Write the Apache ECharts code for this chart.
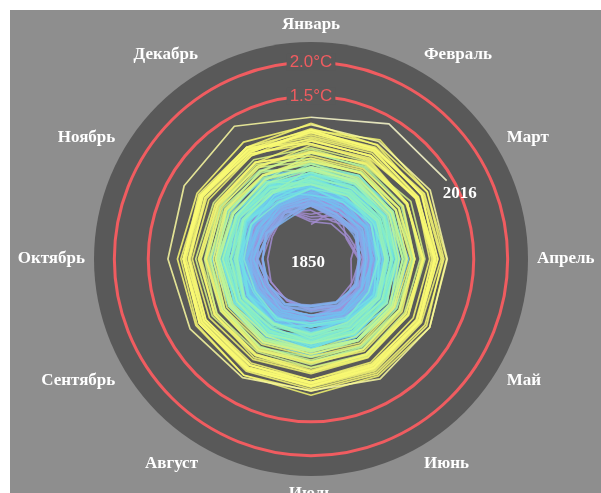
<!DOCTYPE html>
<html>
<head>
<meta charset="utf-8">
<script src="https://cdn.jsdelivr.net/npm/echarts@6/dist/echarts.min.js"></script>
<style>
html,body{margin:0;padding:0;background:#ffffff;}
#chart{position:absolute;left:10px;top:10px;width:591px;height:483px;background:#8e8e8e;}
</style>
</head>
<body>
<div id="chart"></div>
<script>
// Month names (angle axis tick labels)
const months = ['Январь','Февраль','Март','Апрель','Май','Июнь','Июль','Август','Сентябрь','Октябрь','Ноябрь','Декабрь'];
const firstYear = 1850;
// Ring reference levels (°C)
const ringLevels = [1.5, 2.0];
const ringLabels = ['1.5°C', '2.0°C'];
// Monthly temperature anomalies, hundredths of °C, one row per year (Jan..Dec)
const d1850 = [
[-39,2,-8,-31,-21,8,7,12,-12,-1,-15,-7],
[-2,-12,1,13,5,18,22,14,9,18,3,16],
[5,14,-6,-2,12,10,19,8,1,5,15,12],
[12,-8,0,9,-4,2,10,13,4,-2,6,8],
[-3,6,10,-5,0,8,1,5,-8,4,9,-3],
[15,-12,3,-6,4,7,-1,9,2,-10,0,3],
[-10,4,-14,-3,6,2,10,-2,-9,3,8,-7],
[-24,-5,-30,-20,-12,-8,-14,-19,-22,-10,-18,-11],
[-18,-26,-4,-10,2,-6,-3,-9,-12,1,-8,-3],
[6,-4,10,4,-2,8,2,1,-5,9,3,4]];
const d1860 = [
[-4,-20,-12,-6,-10,0,-2,-8,-14,-3,-12,-5],
[-28,-16,-8,-14,-6,-10,-2,-9,-13,-18,-15,-5],
[-35,-30,-28,-18,-20,-16,-14,-19,-22,-26,-24,-12],
[4,-8,2,-12,-5,0,6,-3,-7,1,-9,-5],
[-32,-22,-25,-14,-12,-10,-16,-20,-15,-18,-21,-11],
[6,-6,-10,2,0,-4,3,-1,-8,5,-3,-5],
[10,-4,5,1,-3,6,2,4,-6,3,0,8],
[-8,3,-5,6,2,-2,4,-3,1,-6,-1,0],
[-12,-2,8,6,10,9,7,3,5,2,4,6],
[12,8,-4,1,0,3,-2,5,2,-1,-3,4]];
const d1870 = [
[4,-6,2,0,6,3,-1,5,-3,-4,1,8],
[-12,-8,6,-2,-4,3,1,0,-5,2,-3,4],
[-3,6,2,8,4,7,1,5,3,6,0,9],
[5,-2,3,0,6,-4,2,1,-1,4,-3,0],
[2,-9,-6,-3,-8,-5,-2,-7,-4,-6,-10,-1],
[-12,-14,-9,-5,-3,-6,-2,-8,-4,-10,-6,-5],
[-8,-3,-10,-6,-9,-4,-2,-7,-5,-3,-8,-6],
[8,12,14,16,20,26,28,30,32,35,30,34],
[42,45,40,38,36,32,28,30,25,30,27,26],
[12,15,10,6,5,8,3,7,4,6,10,9]];
const d1880 = [
[18,10,6,8,14,12,9,11,7,13,10,15],
[20,14,22,16,24,19,15,12,17,21,18,20],
[22,14,8,6,12,4,9,10,7,11,8,9],
[2,5,10,8,12,6,9,11,7,8,5,13],
[4,-2,-8,-6,-9,-4,-7,-3,-5,-10,-6,-4],
[-8,-2,3,-6,-1,-4,2,-5,-3,-7,-2,-1],
[-6,4,2,5,-1,3,0,6,-2,1,-3,3],
[-10,-8,-4,-2,-6,-3,-7,-5,-1,-8,-4,-2],
[2,8,4,10,6,9,3,7,5,8,4,6],
[12,22,20,24,18,15,16,19,14,21,17,18]];
const d1890 = [
[2,-8,-4,-6,-3,-10,-5,-7,-2,-9,-4,-6],
[-6,4,2,-2,5,3,0,6,-1,3,-3,2],
[4,-6,-8,-2,-4,0,-5,-1,-3,-7,-2,1],
[-12,-8,-2,-5,-3,1,-4,-6,0,-2,-7,-3],
[-6,3,-3,2,-1,4,-2,0,-4,1,-5,2],
[-2,6,4,1,8,3,5,0,2,6,1,4],
[12,15,10,18,20,16,22,19,14,21,17,20],
[16,22,20,18,24,17,21,15,19,23,18,16],
[8,-2,4,6,1,3,-1,5,2,0,4,6],
[6,10,12,8,15,11,16,18,13,20,17,19]];
const d1900 = [
[18,26,24,14,25,19,27,17,21,28,12,20],
[24,12,18,10,15,20,9,17,11,16,19,8],
[14,8,2,6,-4,0,5,-3,1,4,-6,2],
[-2,6,-9,-12,-4,-10,-2,-8,-13,-6,-10,-4],
[-10,-18,-12,-20,-16,-9,-17,-21,-12,-19,-14,-16],
[-8,-4,4,-3,6,2,8,-2,5,0,9,3],
[4,12,8,14,6,11,7,13,5,10,12,6],
[-4,-14,-8,-12,-6,-11,-15,-7,-10,-3,-13,-9],
[-9,-16,-11,-18,-14,-10,-20,-13,-17,-12,-15,-11],
[-12,-20,-15,-18,-10,-17,-22,-14,-16,-19,-13,-18]];
const d1910 = [
[-8,-14,-18,-10,-15,-12,-17,-9,-16,-11,-19,-13],
[-11,-18,-14,-20,-12,-15,-21,-13,-17,-10,-16,-19],
[-2,-9,-5,-11,-4,-7,-12,-10,-6,-3,-8,-4],
[-8,-1,-6,-9,-3,2,-7,-4,-1,-10,-5,0],
[4,10,15,9,16,11,18,12,14,17,10,19],
[12,22,16,24,14,20,17,21,15,19,23,13],
[6,-2,2,-7,-3,-8,-1,-9,-5,0,-10,-6],
[-6,-14,-11,-18,-13,-16,-20,-12,-17,-19,-14,-22],
[-10,-2,-6,3,-4,2,-1,5,-5,4,-3,-7],
[0,8,3,-2,6,1,9,4,-1,7,2,5]];
const d1920 = [
[9,1,6,0,4,8,-1,7,2,5,0,6],
[18,8,13,17,9,15,7,12,16,10,14,6],
[6,-2,5,1,-3,4,0,3,7,-1,2,-2],
[-1,7,2,6,9,0,5,3,1,8,2,7],
[8,1,5,-1,7,3,0,6,2,4,9,1],
[3,10,12,6,9,14,5,11,8,15,7,13],
[26,28,22,16,18,21,14,19,23,15,20,24],
[13,6,4,10,12,5,11,8,14,6,9,4],
[16,14,8,6,12,13,7,9,11,15,8,14],
[1,-8,-2,-9,-4,0,-7,-3,-10,-5,-8,1]];
const d1930 = [
[9,14,12,16,17,11,19,14,18,13,20,21],
[17,24,18,22,26,19,23,17,22,19,25,20],
[20,12,17,10,15,13,18,14,11,19,12,17],
[6,-3,5,-1,2,4,-2,0,3,6,-1,4],
[13,20,15,21,23,17,14,20,19,15,22,18],
[16,8,14,6,11,13,9,12,7,14,8,15],
[13,11,17,19,14,20,15,18,13,16,21,17],
[21,25,27,29,31,26,32,28,30,33,27,31],
[35,28,34,31,26,33,29,30,36,28,34,27],
[24,30,27,32,25,29,33,26,31,28,34,30]];
const d1940 = [
[36,42,45,41,47,43,48,41,46,49,42,47],
[45,52,47,54,50,49,46,53,49,55,47,52],
[43,39,35,38,33,40,37,35,41,38,34,40],
[35,38,43,40,44,37,41,43,38,45,39,42],
[46,50,54,51,55,48,53,51,49,56,52,47],
[44,42,37,41,35,43,39,38,45,40,35,42],
[28,26,21,25,19,27,24,22,28,23,20,26],
[25,30,28,24,29,32,26,31,27,25,30,32],
[24,21,17,20,15,23,20,18,24,19,16,22],
[17,22,20,16,24,18,22,19,16,23,18,25]];
const d1950 = [
[4,10,18,12,20,13,19,9,16,11,21,8],
[14,20,26,28,21,29,24,31,22,27,25,32],
[27,36,26,34,39,29,37,28,33,36,25,34],
[33,42,45,36,46,35,43,38,34,44,36,41],
[25,12,20,11,22,16,10,23,18,14,22,13],
[24,13,19,10,21,15,9,22,16,12,20,11],
[15,6,13,7,17,10,4,14,8,16,11,18],
[27,33,38,31,40,35,42,34,41,36,43,37],
[46,42,33,37,35,40,31,38,30,39,35,34],
[38,31,36,28,38,33,30,37,32,39,34,29]];
const d1960 = [
[30,22,25,31,24,33,27,35,26,30,23,32],
[34,42,36,40,33,39,35,41,37,32,38,36],
[38,33,36,30,37,34,39,32,35,37,31,38],
[32,38,31,35,33,37,34,40,39,42,36,33],
[22,18,12,10,8,13,7,11,5,9,12,6],
[14,18,16,22,20,24,19,21,23,18,22,26],
[20,27,28,24,26,29,22,25,24,28,23,27],
[27,24,31,29,33,26,30,28,32,29,27,31],
[21,19,25,23,27,20,24,22,26,21,25,23],
[30,33,35,38,36,37,34,39,36,40,38,37]];
const d1970 = [
[37,40,33,36,31,35,32,34,30,33,35,31],
[26,21,24,20,25,22,23,19,24,21,26,22],
[24,26,28,30,31,33,34,32,36,35,37,39],
[50,52,49,51,47,48,45,46,44,45,43,42],
[20,23,25,22,26,24,27,21,25,23,26,22],
[32,30,34,28,31,29,33,27,30,28,32,26],
[20,17,22,19,23,18,21,20,24,19,25,23],
[44,47,50,48,52,49,51,47,50,48,53,49],
[41,38,40,36,39,37,35,38,36,40,37,39],
[42,44,46,45,48,47,46,49,48,51,50,52]];
const d1980 = [
[52,58,54,60,56,59,55,61,57,58,54,60],
[68,66,64,62,60,63,61,65,60,62,64,61],
[40,44,42,46,43,47,44,45,46,48,45,44],
[66,68,67,63,61,60,62,59,61,58,60,57],
[50,46,48,45,49,47,44,48,46,47,43,45],
[44,41,43,40,45,42,44,41,43,45,42,46],
[46,49,47,50,48,49,47,51,48,50,49,52],
[56,58,60,61,63,64,66,65,64,66,65,68],
[72,70,74,71,69,72,70,68,71,67,69,66],
[54,57,59,58,60,57,59,61,58,60,57,59]];
const d1990 = [
[68,72,80,78,76,75,77,74,78,80,76,79],
[74,76,73,75,72,74,71,73,70,72,69,71],
[58,56,54,52,51,53,50,52,53,51,54,52],
[54,56,55,57,53,56,54,55,57,54,56,53],
[59,61,60,63,61,64,62,63,61,64,62,65],
[78,80,74,76,75,77,76,78,74,76,73,75],
[62,64,66,63,65,67,64,66,63,65,67,68],
[69,72,74,75,76,78,79,81,83,85,84,86],
[100,113,108,110,112,109,111,108,104,102,98,100],
[80,78,74,73,75,72,76,74,73,75,72,74]];
const d2000 = [
[66,74,72,76,71,73,74,72,75,73,70,74],
[84,86,90,88,91,89,92,90,93,91,94,92],
[98,100,99,94,95,94,93,94,92,94,95,92],
[97,94,93,92,94,92,93,96,95,97,94,98],
[93,95,92,94,90,89,88,91,92,95,97,91],
[100,96,101,102,98,100,99,98,100,97,99,96],
[90,93,92,94,93,95,96,97,96,98,97,100],
[110,104,98,97,94,92,93,91,92,90,91,89],
[80,82,90,85,84,86,88,87,89,88,90,86],
[88,90,89,92,94,96,98,97,99,98,97,96]];
const d2010 = [
[102,105,108,106,104,103,102,101,100,99,98,96],
[86,85,88,90,89,91,92,90,89,90,88,89],
[84,86,89,92,95,96,94,95,97,98,96,94],
[96,98,99,97,96,98,97,99,100,98,101,100],
[100,98,103,104,107,106,105,108,106,107,104,109],
[108,110,113,111,112,114,104,112,116,121,126,136],
[119,140,141]];

const rows = [].concat(d1850,d1860,d1870,d1880,d1890,d1900,d1910,d1920,d1930,d1940,d1950,d1960,d1970,d1980,d1990,d2000,d2010);
const lastYear = firstYear + rows.length - 1;

// colour ramp by year (style)
const stops = [
  [1850,[165,138,205]],[1895,[152,150,222]],[1915,[128,175,236]],[1940,[105,200,240]],
  [1958,[115,228,226]],[1973,[140,240,192]],[1985,[192,245,150]],[1995,[242,245,112]],
  [2014,[250,250,115]],[2016,[250,250,205]]
];
function colorFor(y){
  for(let i=0;i<stops.length-1;i++){
    const a=stops[i], b=stops[i+1];
    if(y>=a[0] && y<=b[0]){
      const t=(y-a[0])/(b[0]-a[0]);
      const c=a[1].map((v,k)=>Math.round(v+(b[1][k]-v)*t));
      return 'rgb('+c.join(',')+')';
    }
  }
  return 'rgb(250,250,205)';
}

const RMIN=-0.9, RMAX=2.3;
const series = rows.map((row,i)=>{
  const year = firstYear+i;
  const next = rows[i+1];
  const pts = row.map((v,m)=>[v/100,m]);
  if(next) pts.push([next[0]/100,12]);
  return {
    type:'line', coordinateSystem:'polar', data:pts, symbol:'none', silent:true,
    lineStyle:{color:colorFor(year), width:1.7, opacity:0.85},
    z: 2
  };
});

const chart = echarts.init(document.getElementById('chart'));
chart.setOption({
  animation:false,
  backgroundColor:'#8e8e8e',
  polar:{center:[301,249], radius:217},
  angleAxis:{
    type:'value', min:0, max:12, interval:1, startAngle:90, clockwise:true,
    axisLine:{show:false}, axisTick:{show:false}, splitLine:{show:false},
    axisLabel:{
      margin:9, color:'#ffffff', fontFamily:'Liberation Serif', fontWeight:'bold', fontSize:17,
      formatter:(v)=> (v>=0 && v<12) ? months[Math.round(v)] : ''
    }
  },
  radiusAxis:{
    type:'value', min:RMIN, max:RMAX,
    axisLine:{show:false}, axisTick:{show:false}, axisLabel:{show:false}, splitLine:{show:false}
  },
  series: series
});

// Background disc, reference rings and labels positioned through the polar scales
const c = chart.convertToPixel({seriesIndex:0},[RMIN,0]);
const edge = chart.convertToPixel({seriesIndex:0},[RMAX,0]);
const R = c[1]-edge[1];
const graphics = [{type:'circle', z:-10, silent:true, shape:{cx:c[0],cy:c[1],r:R}, style:{fill:'#595959'}}];
ringLevels.forEach((lv,i)=>{
  const p = chart.convertToPixel({seriesIndex:0},[lv,0]);
  const r = c[1]-p[1];
  graphics.push({type:'circle', z:-5, silent:true, shape:{cx:c[0],cy:c[1],r:r}, style:{fill:'none',stroke:'#f05c60',lineWidth:3}});
  graphics.push({type:'text', z:-4, silent:true, x:p[0], y:p[1],
    style:{text:ringLabels[i], fill:'#f05c60', font:'17px "Liberation Sans"', align:'center', verticalAlign:'middle',
      backgroundColor:'#595959', padding:[0,3]}});
});
graphics.push({type:'text', z:10, silent:true, x:c[0]-3, y:c[1]+4,
  style:{text:String(firstYear), fill:'#ffffff', font:'bold 17px "Liberation Serif"', align:'center', verticalAlign:'middle'}});
// label at the end of the last year's line
const lastRow = rows[rows.length-1];
const endPt = chart.convertToPixel({seriesIndex:rows.length-1},[lastRow[lastRow.length-1]/100, lastRow.length-1]);
graphics.push({type:'text', z:10, silent:true, x:endPt[0]+13, y:endPt[1]+13,
  style:{text:String(lastYear), fill:'#ffffff', font:'bold 17px "Liberation Serif"', align:'center', verticalAlign:'middle'}});
chart.setOption({graphic:graphics});
</script>
</body>
</html>
